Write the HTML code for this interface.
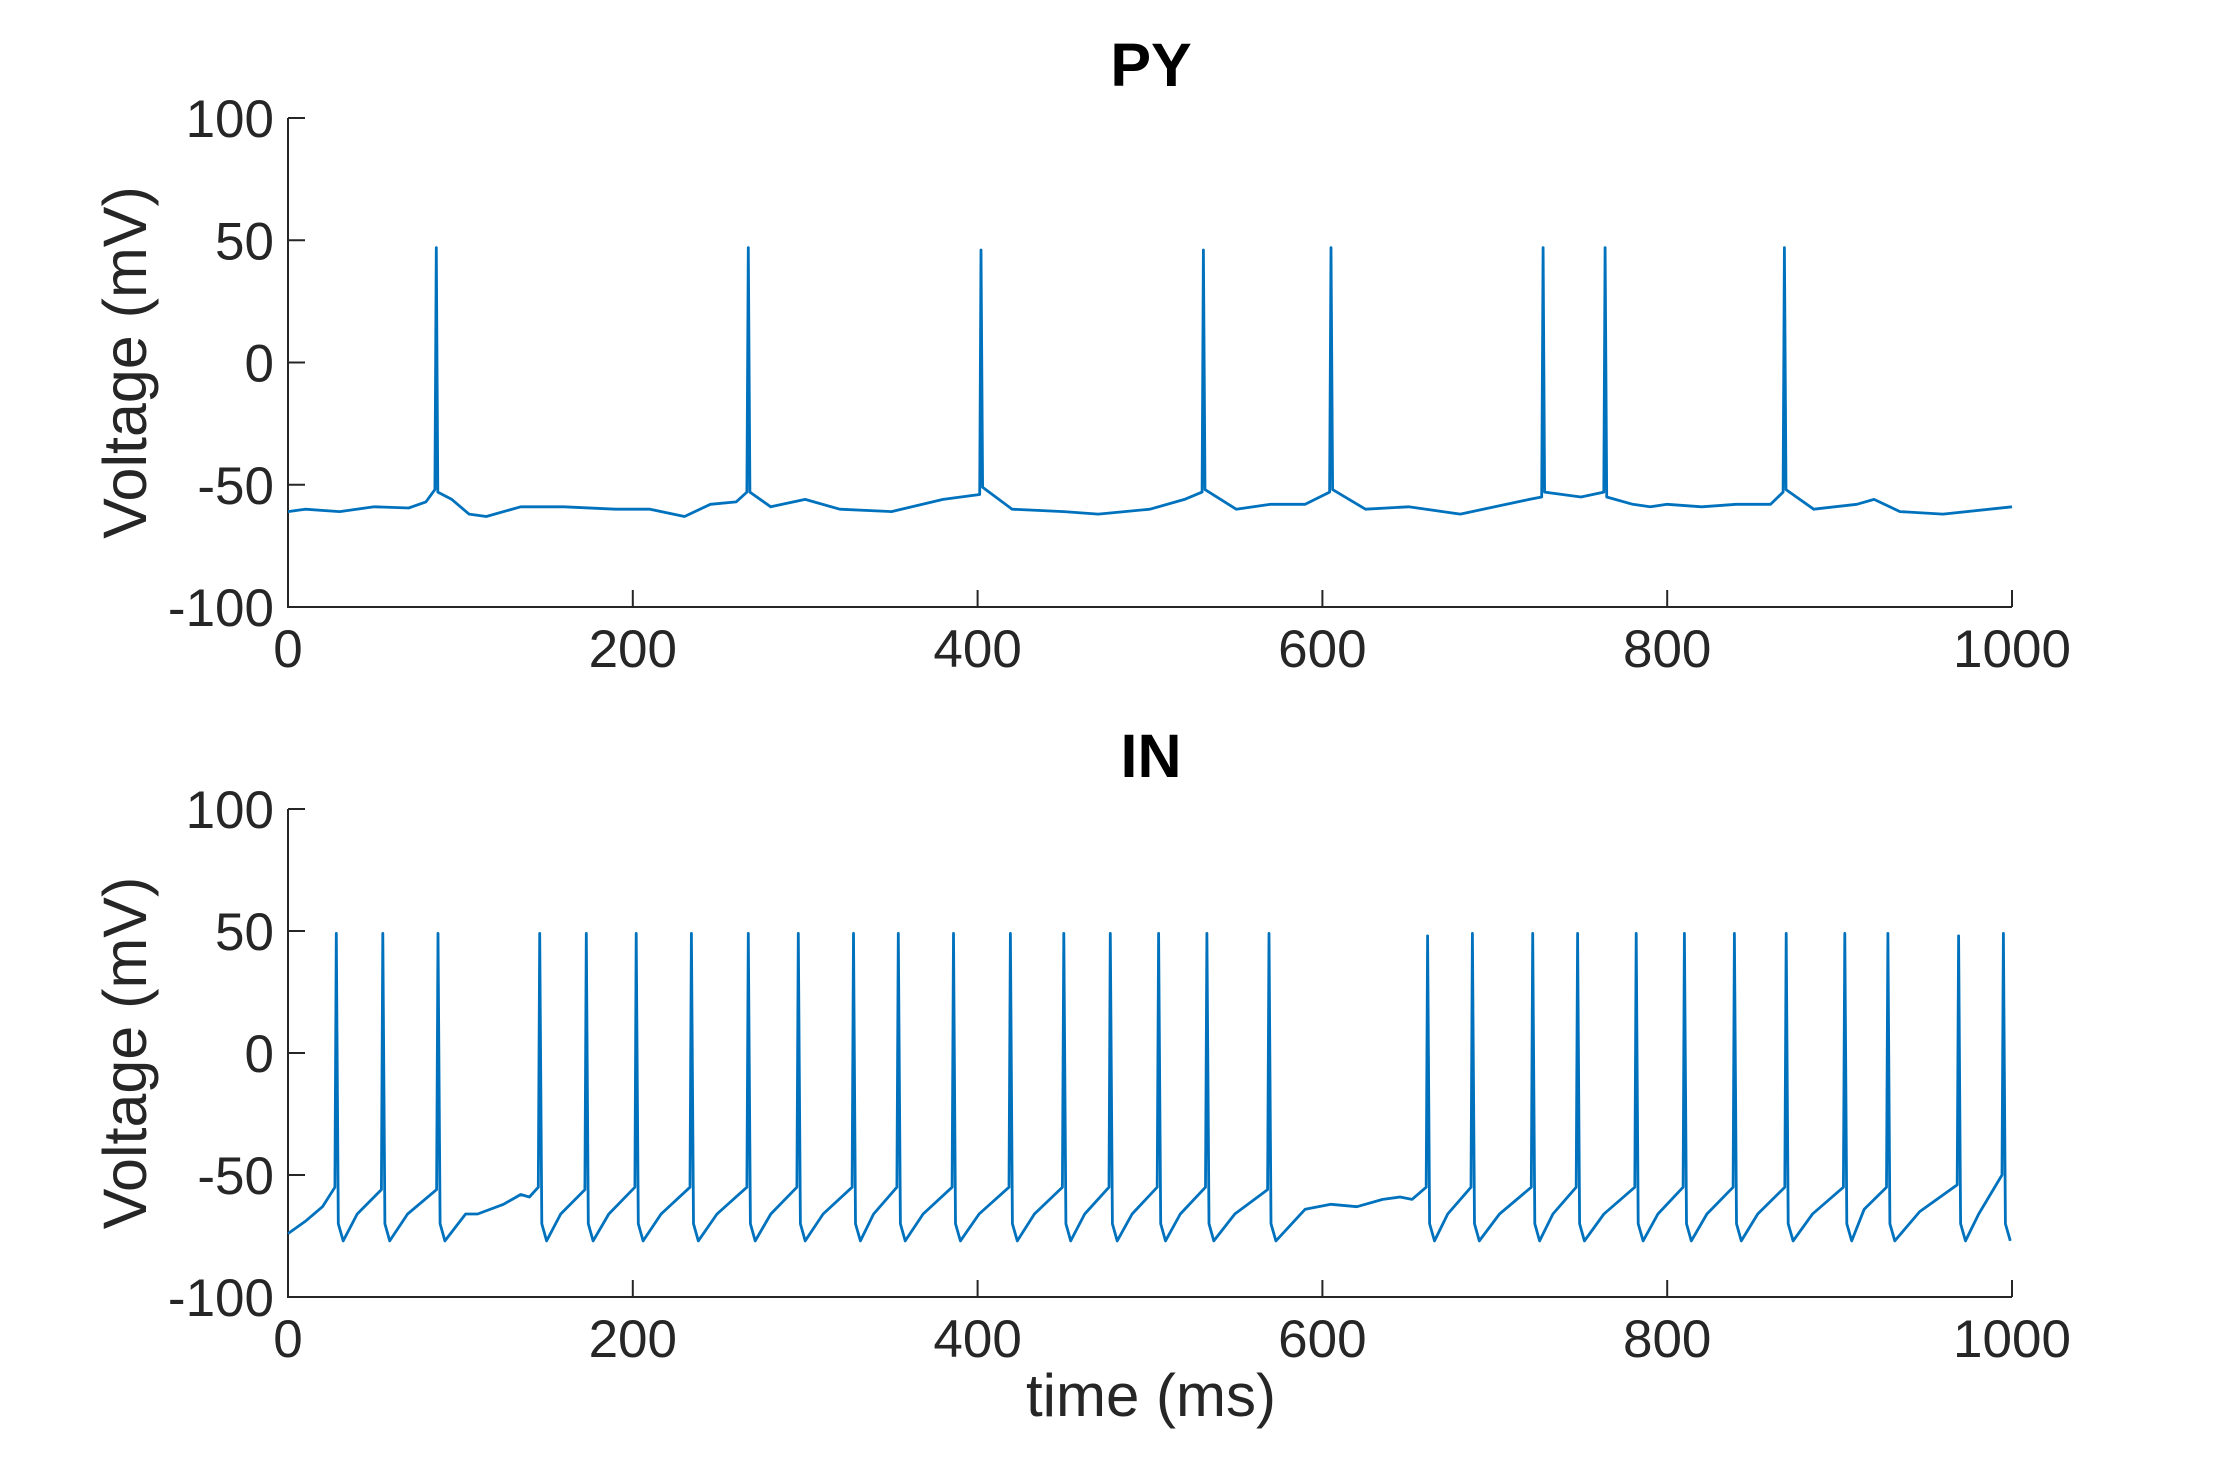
<!DOCTYPE html>
<html><head><meta charset="utf-8"><style>
html,body{margin:0;padding:0;background:#fff;}
svg{display:block;font-family:"Liberation Sans",Arial,sans-serif;}
</style></head><body>
<svg id="chart" width="2222" height="1457" viewBox="0 0 2222 1457" xmlns="http://www.w3.org/2000/svg"></svg>
<script>
// PY data
const pyBaseT = [0,10,30,50,70,80,95,105,115,135,160,190,210,230,245,260,280,300,320,350,380,420,450,470,500,520,550,570,590,625,650,680,720,750,780,790,800,820,840,860,885,910,920,935,960,1000];
const pyBaseV = [-61,-60,-61,-59,-59.5,-57,-56,-62,-63,-59,-59,-60,-60,-63,-58,-57,-59,-56,-60,-61,-56,-60,-61,-62,-60,-56,-60,-58,-58,-60,-59,-62,-56,-55,-58,-59,-58,-59,-58,-58,-60,-58,-56,-61,-62,-59];
const pySpikeT = [86,267,402,531,605,728,764,868];
const pyPreV = [-52,-53,-54,-53,-53,-55,-53,-53];
const pyPeakV = [47,47,46,46,47,47,47,47];
const pyPostV = [-53,-53,-51,-52,-52,-53,-55,-52];
// IN data
const inSpikeT = [28,55,87,146,173,202,234,267,296,328,354,386,419,450,477,505,533,569,661,687,722,748,782,810,839,869,903,928,969,995];
const inPreV = [-55,-56,-56,-55,-56,-55,-55,-55,-55,-55,-55,-55,-55,-55,-55,-55,-55,-56,-55,-55,-55,-55,-55,-55,-55,-55,-55,-55,-54,-50];
const inPeakV = [49,49,49,49,49,49,49,49,49,49,49,49,49,49,49,49,49,49,48,49,49,49,49,49,49,49,49,49,48,49];
const inTroughV = [-77,-77,-77,-77,-77,-77,-77,-77,-77,-77,-77,-77,-77,-77,-77,-77,-77,-77,-77,-77,-77,-77,-77,-77,-77,-77,-77,-77,-77,-77];
const inMidV = [-66,-66,-66,-66,-66,-66,-66,-66,-66,-66,-66,-66,-66,-66,-66,-66,-66,-66,-66,-66,-66,-66,-66,-66,-66,-66,-64,-65,-66];
const inExtraT = [0,10,20,110,125,135,140,590,605,620,635,645,652];
const inExtraV = [-74,-69,-63,-66,-62,-58,-59,-64,-62,-63,-60,-59,-60];
const xTicks = [0,200,400,600,800,1000];
const yTicks = [-100,-50,0,50,100];

const NS = "http://www.w3.org/2000/svg";
const svg = document.getElementById('chart');
const X0 = 288, X1 = 2012;
const panels = [
  {title:'PY', top:118, bottom:607, name:'py'},
  {title:'IN', top:809, bottom:1297, name:'in'}
];
function mk(tag, attrs, parent){
  const e = document.createElementNS(NS, tag);
  for (const k in attrs) e.setAttribute(k, attrs[k]);
  (parent||svg).appendChild(e); return e;
}
const xs = t => X0 + (t/1000)*(X1-X0);
function ysf(p){ return v => p.bottom - (v+100)/200*(p.bottom-p.top); }

function pyPoints(){
  const pts = pyBaseT.map((t,i)=>[t,pyBaseV[i]]);
  pySpikeT.forEach((t,i)=>{pts.push([t-0.8,pyPreV[i]]);pts.push([t,pyPeakV[i]]);pts.push([t+0.9,pyPostV[i]]);});
  return pts.sort((a,b)=>a[0]-b[0]);
}
function inPoints(){
  const pts = inExtraT.map((t,i)=>[t,inExtraV[i]]);
  inSpikeT.forEach((t,i)=>{
    pts.push([t-0.8,inPreV[i]]);pts.push([t,inPeakV[i]]);pts.push([t+1.2,-70]);pts.push([Math.min(t+4,1000),inTroughV[i]]);
    if(i<inSpikeT.length-1){
      const n = inSpikeT[i+1];
      if(n-t<45) pts.push([t+(n-t)*0.45,inMidV[i]]);
      else if(n-t<60) pts.push([t+16,inMidV[i]]);
    }
  });
  return pts.filter(p=>p[0]<=1000).sort((a,b)=>a[0]-b[0]);
}

panels.forEach((p,pi)=>{
  const ys = ysf(p);
  const g = mk('g',{});
  
  
  const t = mk('text',{x:1151,y:p.top-32,'text-anchor':'middle','font-size':61,'font-weight':'bold',fill:'#000'},g);
  t.textContent = p.title;
  
  
  const yl = mk('text',{transform:`translate(146,${(p.top+p.bottom)/2}) rotate(-90)`,'text-anchor':'middle','font-size':61,fill:'#262626'},g);
  yl.textContent = 'Voltage (mV)';
  
  
  const ax = mk('path',{d:`M${X0},${p.top} V${p.bottom} H${X1}`,fill:'none',stroke:'#262626','stroke-width':2},g);
  
  
  yTicks.forEach(v=>{
    const y = ys(v);
    const tk = mk('line',{x1:X0,x2:X0+17,y1:y,y2:y,stroke:'#262626','stroke-width':2},g);
    
    
    const lb = mk('text',{x:274,y:y+19,'text-anchor':'end','font-size':53,fill:'#262626'},g);
    lb.textContent = v;
    
    
  });
  xTicks.forEach(v=>{
    const x = xs(v);
    const tk = mk('line',{x1:x,x2:x,y1:p.bottom,y2:p.bottom-17,stroke:'#262626','stroke-width':2},g);
    
    
    const lb = mk('text',{x:x,y:p.bottom+60,'text-anchor':'middle','font-size':53,fill:'#262626'},g);
    lb.textContent = v;
    
    
  });
  const pts = pi===0 ? pyPoints() : inPoints();
  const line = mk('polyline',{points:pts.map(q=>xs(q[0]).toFixed(1)+','+ys(q[1]).toFixed(1)).join(' '),fill:'none',stroke:'#0072BD','stroke-width':2.8,'stroke-linejoin':'round'},g);
  
  
});
const xl = mk('text',{x:1151,y:1416,'text-anchor':'middle','font-size':60,fill:'#262626'});
xl.textContent = 'time (ms)';


</script>
</body></html>
